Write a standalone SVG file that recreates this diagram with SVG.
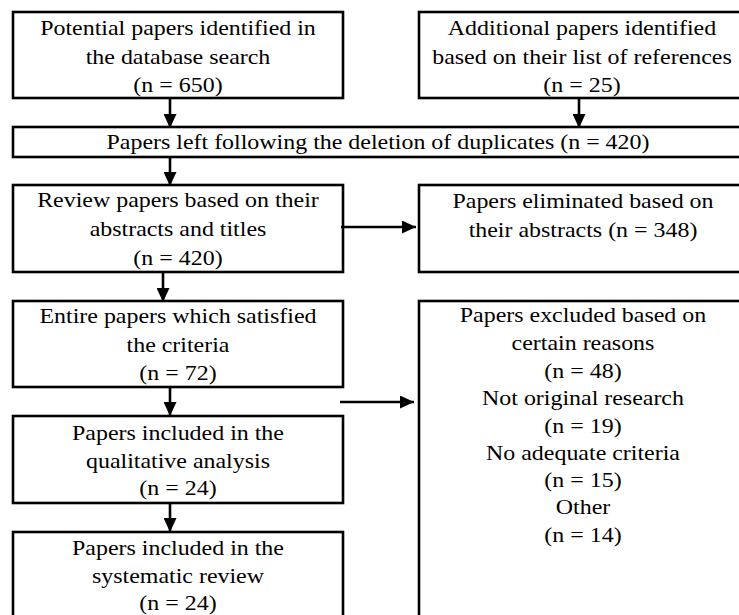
<svg xmlns="http://www.w3.org/2000/svg" width="739" height="615" viewBox="0 0 739 615">
<style>
.box{fill:#fff;stroke:#000;stroke-width:2.6}
.t{font-family:"Liberation Serif","Times New Roman",serif;font-size:21px;fill:#000;text-anchor:middle}
.c{stroke:#000;stroke-width:2.6;fill:none}
</style>
<defs>
<marker id="ah" markerUnits="userSpaceOnUse" markerWidth="14" markerHeight="13" refX="14" refY="6.5" orient="auto">
<path d="M0,0 L14,6.5 L0,13 z" fill="#000"/>
</marker>
</defs>
<rect width="739" height="615" fill="#fff"/>
<g id="n1">
<rect class="box" x="13" y="12" width="330" height="86"/>
<g transform="matrix(1.14 0 0 1 -24.92 0)">
<text class="t" x="178" y="35">Potential papers identified in</text>
<text class="t" x="178" y="64">the database search</text>
<text class="t" x="178" y="92">(n = 650)</text>
</g>
</g>
<g id="n2">
<rect class="box" x="419" y="12" width="330" height="86"/>
<g transform="matrix(1.14 0 0 1 -81.48 0)">
<text class="t" x="582" y="35">Additional papers identified</text>
<text class="t" x="582" y="64">based on their list of references</text>
<text class="t" x="582" y="92">(n = 25)</text>
</g>
</g>
<g id="n3">
<rect class="box" x="13" y="127" width="740" height="30"/>
<g transform="matrix(1.14 0 0 1 -52.92 0)">
<text class="t" x="378" y="149">Papers left following the deletion of duplicates (n = 420)</text>
</g>
</g>
<g id="n4">
<rect class="box" x="13" y="185" width="330" height="87"/>
<g transform="matrix(1.14 0 0 1 -24.92 0)">
<text class="t" x="178" y="207">Review papers based on their</text>
<text class="t" x="178" y="236">abstracts and titles</text>
<text class="t" x="178" y="265">(n = 420)</text>
</g>
</g>
<g id="n5">
<rect class="box" x="419" y="185" width="330" height="87"/>
<g transform="matrix(1.14 0 0 1 -81.62 0)">
<text class="t" x="583" y="208">Papers eliminated based on</text>
<text class="t" x="583" y="237">their abstracts (n = 348)</text>
</g>
</g>
<g id="n6">
<rect class="box" x="13" y="301" width="330" height="86"/>
<g transform="matrix(1.14 0 0 1 -24.92 0)">
<text class="t" x="178" y="323">Entire papers which satisfied</text>
<text class="t" x="178" y="352">the criteria</text>
<text class="t" x="178" y="380">(n = 72)</text>
</g>
</g>
<g id="n7">
<rect class="box" x="419" y="301" width="330" height="330"/>
<g transform="matrix(1.14 0 0 1 -81.62 0)">
<text class="t" x="583" y="322">Papers excluded based on</text>
<text class="t" x="583" y="350">certain reasons</text>
<text class="t" x="583" y="378">(n = 48)</text>
<text class="t" x="583" y="405">Not original research</text>
<text class="t" x="583" y="433">(n = 19)</text>
<text class="t" x="583" y="460">No adequate criteria</text>
<text class="t" x="583" y="487">(n = 15)</text>
<text class="t" x="583" y="514">Other</text>
<text class="t" x="583" y="542">(n = 14)</text>
</g>
</g>
<g id="n8">
<rect class="box" x="13" y="416" width="330" height="87"/>
<g transform="matrix(1.14 0 0 1 -24.92 0)">
<text class="t" x="178" y="440">Papers included in the</text>
<text class="t" x="178" y="468">qualitative analysis</text>
<text class="t" x="178" y="495">(n = 24)</text>
</g>
</g>
<g id="n9">
<rect class="box" x="13" y="532" width="330" height="100"/>
<g transform="matrix(1.14 0 0 1 -24.92 0)">
<text class="t" x="178" y="555">Papers included in the</text>
<text class="t" x="178" y="583">systematic review</text>
<text class="t" x="178" y="610">(n = 24)</text>
</g>
</g>
<g id="connectors">
<line class="c" x1="170" y1="98" x2="170" y2="128" marker-end="url(#ah)"/>
<line class="c" x1="579" y1="98" x2="579" y2="128" marker-end="url(#ah)"/>
<line class="c" x1="170" y1="157" x2="170" y2="186" marker-end="url(#ah)"/>
<line class="c" x1="341" y1="227" x2="416" y2="227" marker-end="url(#ah)"/>
<line class="c" x1="163" y1="272" x2="163" y2="302" marker-end="url(#ah)"/>
<line class="c" x1="340" y1="402" x2="414" y2="402" marker-end="url(#ah)"/>
<line class="c" x1="170" y1="387" x2="170" y2="416" marker-end="url(#ah)"/>
<line class="c" x1="170" y1="503" x2="170" y2="532" marker-end="url(#ah)"/>
</g>
</svg>
